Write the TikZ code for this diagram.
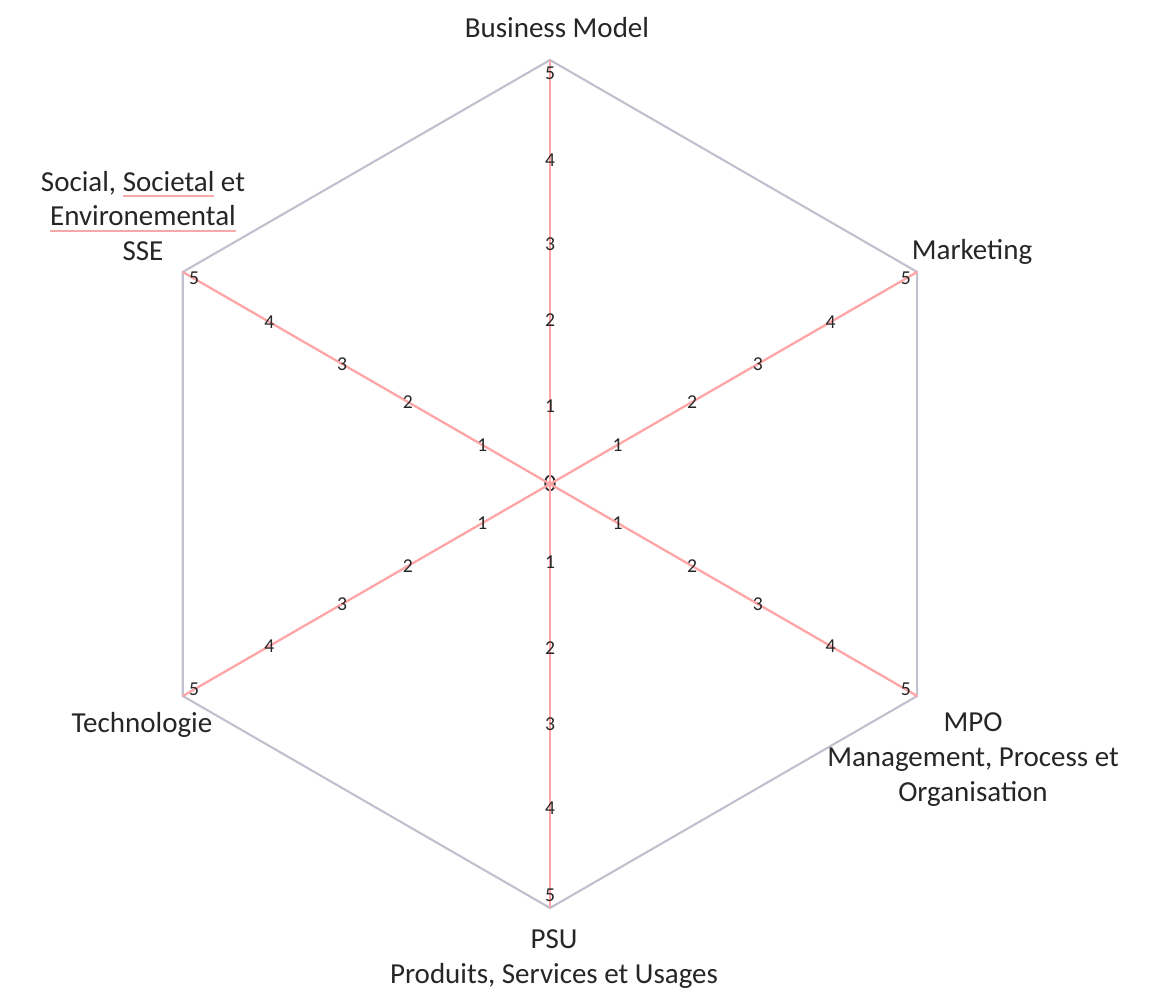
\documentclass[tikz,border=0pt]{standalone}
\usepackage{fontspec}
\setmainfont{Carlito}
\definecolor{frameGray}{RGB}{192,192,206}
\definecolor{spokeRed}{RGB}{255,165,165}
\definecolor{squiggle}{RGB}{245,170,170}
\newlength{\spellwd}
\newcommand{\spellul}[1]{\leavevmode\settowidth{\spellwd}{#1}\rlap{\textcolor{squiggle}{\rule[-0.45ex]{\spellwd}{1pt}}}#1}

\begin{document}
\begin{tikzpicture}[
        x=0.02cm, y=0.02cm,
        axisLabel/.style={font=\fontsize{16.5}{19.9}\selectfont, align=center, inner sep=0pt, text=black!85},
        tickLabel/.style={font=\fontsize{11.2}{13}\selectfont, inner sep=0pt, text=black!85},
        frameLine/.style={draw=frameGray, line width=1.2pt},
        spokeLine/.style={draw=spokeRed, line width=1.3pt}
    ]
        % Canvas
        \useasboundingbox (-550,-517) rectangle (604,484);

        % Corners of the hexagon
        \coordinate (bm) at (90:424);
        \coordinate (mk) at (30:424);
        \coordinate (mp) at (-30:424);
        \coordinate (ps) at (-90:424);
        \coordinate (te) at (-150:424);
        \coordinate (ss) at (150:424);

        % Frame
        \draw[frameLine] (bm) -- (mk) -- (mp) -- (ps) -- (te) -- (ss) -- cycle;

        % Spokes
        \node[tickLabel, font=\fontsize{14}{16}\selectfont] (o) at (0,0) {0};
        \draw[spokeLine] (o.center) -- (bm);
        \draw[spokeLine] (o.center) -- (mk);
        \draw[spokeLine] (o.center) -- (mp);
        \draw[spokeLine] (o.center) -- (ps);
        \draw[spokeLine] (o.center) -- (te);
        \draw[spokeLine] (o.center) -- (ss);

        % Scale values
        \foreach \ang/\nm in {90/bm, 30/mk, -30/mp, -90/ps, -150/te, 150/ss}
            \foreach \v/\r in {1/78, 2/164, 3/240, 4/324, 5/411}
                \node[tickLabel] (\nm-\v) at (\ang:\r) {\v};

        % Axis names
        \node[axisLabel] (bmLabel) at (7,456) {Business Model};
        \node[axisLabel] (mkLabel) at (422,232) {Marketing};
        \node[axisLabel] (mpLabel) at (423,-276) {MPO\\Management, Process et\\Organisation};
        \node[axisLabel] (psLabel) at (4,-475) {PSU\\Produits, Services et Usages};
        \node[axisLabel] (teLabel) at (-408,-241) {Technologie};
        \node[axisLabel] (ssLabel) at (-407,268) {Social, \spellul{Societal} et\\\spellul{Environemental}\\SSE};
    \end{tikzpicture}
\end{document}
